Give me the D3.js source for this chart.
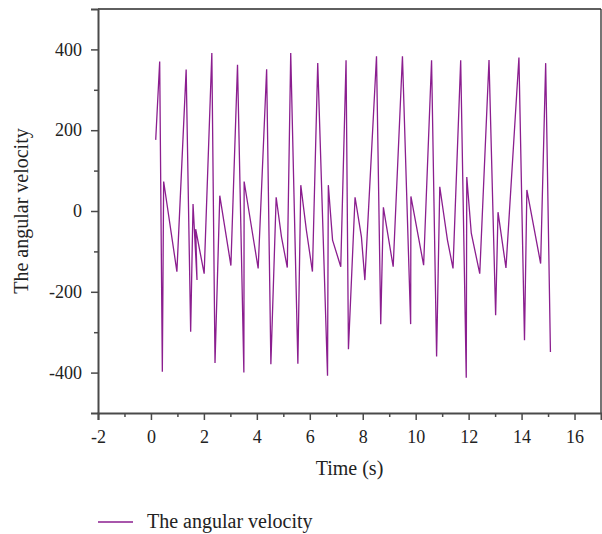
<!DOCTYPE html>
<html>
<head>
<meta charset="utf-8">
<script src="https://cdn.jsdelivr.net/npm/d3@7/dist/d3.min.js"></script>
<style>
  html, body { margin: 0; padding: 0; background: #fff; }
  svg { display: block; }
  text { font-family: "Liberation Serif", "DejaVu Serif", serif; fill: #222; }
</style>
</head>
<body>
<svg id="chart" width="602" height="534"></svg>
<script>
// Data
const time = [0.18, 0.33, 0.43, 0.48, 0.98, 1.33, 1.50, 1.59, 1.74, 1.69, 2.01, 2.30, 2.42, 2.60, 3.02,
  3.27, 3.51, 3.52, 4.05, 4.37, 4.53, 4.73, 4.93, 5.15, 5.28, 5.55, 5.66, 5.87, 6.10, 6.30,
  6.67, 6.70, 6.86, 7.17, 7.37, 7.46, 7.71, 7.95, 8.08, 8.52, 8.68, 8.78, 9.15, 9.50, 9.81,
  9.82, 10.30, 10.60, 10.79, 10.91, 11.20, 11.41, 11.70, 11.91, 11.93, 12.10, 12.42, 12.77,
  13.02, 13.11, 13.41, 13.90, 14.11, 14.20, 14.72, 14.91, 15.09];
const angularVelocity = [176, 370, -398, 73, -150, 350, -299, 17, -171, -45, -155, 391, -376, 38, -135,
  362, -400, 73, -142, 351, -379, 34, -64, -140, 391, -378, 64, -47, -150, 366,
  -408, 64, -72, -138, 373, -342, 34, -64, -171, 383, -280, 9, -138, 383, -280,
  36, -134, 373, -360, 60, -72, -142, 373, -413, 84, -55, -155, 374,
  -258, -3, -141, 380, -320, 52, -130, 366, -349];
const xTicks = [-2, 0, 2, 4, 6, 8, 10, 12, 14, 16];
const xMinorTicks = [-1, 1, 3, 5, 7, 9, 11, 13, 15];
const yTicks = [-400, -200, 0, 200, 400];
const yMinorTicks = [-300, -100, 100, 300];
const xTitle = "Time (s)";
const yTitle = "The angular velocity";
const seriesName = "The angular velocity";

const lineColor = "#8b1e8f";
const svg = d3.select("#chart");
const L = 98, R = 601, T = 9, B = 413;

const x = d3.scaleLinear().domain([-2, 17]).range([L, R]);
const y = d3.scaleLinear().domain([-500, 500]).range([B, T]);
const fmt = d => String(d); // hyphen-minus as in the reference

// frame top/right
svg.append("line").attr("x1", L).attr("x2", R).attr("y1", T).attr("y2", T)
  .attr("stroke", "#2a2a2a").attr("stroke-width", 1.3);
svg.append("line").attr("x1", R).attr("x2", R).attr("y1", T).attr("y2", B)
  .attr("stroke", "#2a2a2a").attr("stroke-width", 1.3);

// X axis
svg.append("g").attr("transform", `translate(0,${B})`)
  .call(d3.axisBottom(x).tickValues(xTicks).tickSize(7).tickPadding(10).tickFormat(fmt));
svg.append("g").attr("transform", `translate(0,${B})`)
  .call(d3.axisBottom(x).tickValues(xMinorTicks).tickSize(4).tickFormat(""))
  .call(g => g.select(".domain").remove());

// Y axis
svg.append("g").attr("transform", `translate(${L},0)`)
  .call(d3.axisLeft(y).tickValues(yTicks).tickSize(7).tickPadding(9).tickFormat(fmt));
svg.append("g").attr("transform", `translate(${L},0)`)
  .call(d3.axisLeft(y).tickValues(yMinorTicks).tickSize(4).tickFormat(""))
  .call(g => g.select(".domain").remove());

svg.selectAll(".domain").attr("stroke", "#4a4a4a").attr("stroke-width", 2);
svg.selectAll(".tick line").attr("stroke", "#4a4a4a").attr("stroke-width", 1.5);
svg.selectAll(".tick text").attr("font-size", 18)
  .attr("font-family", "'Liberation Serif', serif").attr("fill", "#222");

// Line
const line = d3.line().x((d, i) => x(time[i])).y((d, i) => y(angularVelocity[i]));
svg.append("path").datum(angularVelocity)
  .attr("d", line).attr("fill", "none")
  .attr("stroke", lineColor).attr("stroke-width", 1.3).attr("stroke-linejoin", "miter");

// Axis titles
svg.append("text").attr("x", (L + R) / 2).attr("y", 475).attr("text-anchor", "middle")
  .attr("font-size", 20).text(xTitle);
svg.append("text").attr("transform", `translate(28,${(T + B) / 2}) rotate(-90)`)
  .attr("text-anchor", "middle").attr("font-size", 20).text(yTitle);

// Legend
svg.append("line").attr("x1", 98).attr("x2", 133).attr("y1", 522).attr("y2", 522)
  .attr("stroke", lineColor).attr("stroke-width", 1.3);
svg.append("text").attr("x", 147).attr("y", 528).attr("font-size", 20).text(seriesName);
</script>
</body>
</html>
